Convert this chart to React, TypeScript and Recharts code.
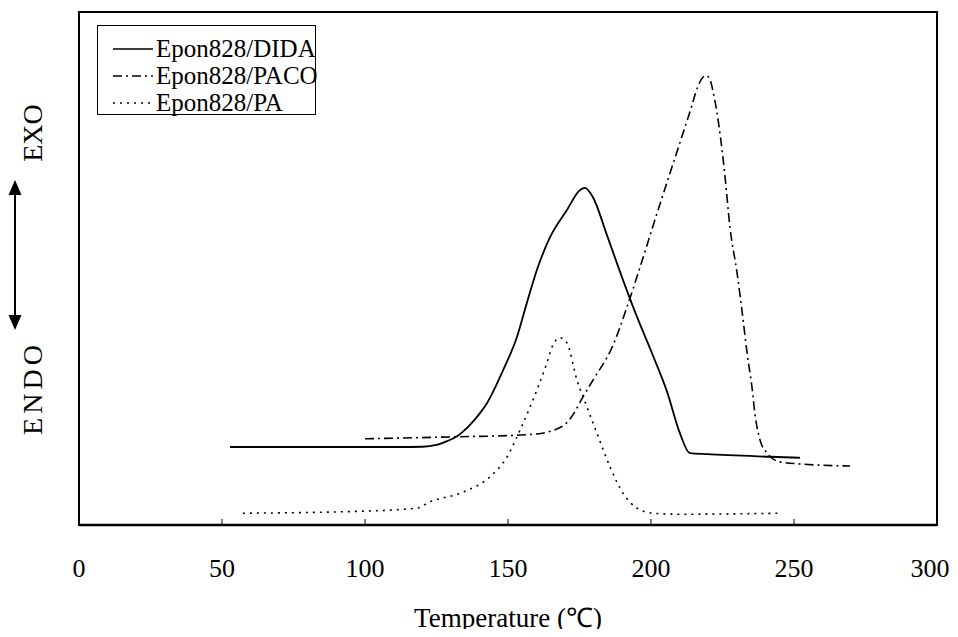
import React from 'react';
import { LineChart, Line, XAxis, YAxis, Legend, ReferenceArea } from 'recharts';

// Temperature (°C) and heat-flow (arbitrary units, EXO up)
const xTicks = [0, 50, 100, 150, 200, 250, 300];

const didaT = [52.8, 77.3, 112.2, 120.0, 125.0, 128.5, 132.2, 136.7, 140.2, 142.7, 148.3, 153.1, 156.6, 160.1, 164.7, 170.6, 175.2, 176.9, 179.7, 184.6, 189.2, 194.8, 200.7, 205.6, 210.1, 213.6, 219.6, 241.6, 252.1];
const didaV = [15.2, 15.2, 15.2, 15.25, 15.6, 16.3, 17.3, 19.5, 21.8, 23.8, 30.2, 36.6, 43.3, 49.7, 56.1, 61.4, 65.3, 65.7, 63.9, 56.5, 49.3, 41.0, 33.0, 26.0, 17.9, 14.0, 13.8, 13.3, 13.1];

const pacoT = [100, 132.2, 153.1, 162.0, 165.0, 168.2, 171.0, 173.5, 176.0, 180.0, 186.7, 191.6, 196.2, 200.7, 205.6, 210.1, 213.6, 216.4, 218.0, 219.2, 220.5, 221.7, 224.1, 225.9, 227.6, 230.1, 232.2, 233.6, 235.3, 236.4, 238.1, 240.6, 245.1, 252.1, 269.6];
const pacoV = [16.8, 17.2, 17.5, 17.9, 18.3, 19.0, 20.2, 22.2, 24.8, 28.5, 35.0, 42.5, 50.3, 58.3, 66.8, 74.5, 80.5, 85.5, 87.2, 87.6, 87.0, 84.5, 76.4, 67.8, 58.1, 49.1, 40.0, 33.5, 26.9, 21.4, 16.6, 14.0, 12.3, 11.9, 11.5];

const paT = [57.3, 99.3, 118.2, 122.7, 134.3, 143.7, 149.7, 154.2, 157.7, 163.6, 165.7, 168.2, 170.6, 174.1, 177.6, 181.1, 185.7, 190.2, 195.1, 200.7, 210.1, 245.1];
const paV = [2.3, 2.7, 3.3, 4.5, 6.4, 9.4, 13.3, 18.5, 23.0, 31.6, 35.1, 36.5, 35.5, 28.3, 23.0, 17.9, 11.3, 6.2, 3.3, 2.3, 2.1, 2.3];

const seriesNames = ['Epon828/DIDA', 'Epon828/PACO', 'Epon828/PA'];
const seriesDash = ['', '9 4 2 4', '2 5'];

const toPoints = (t: number[], v: number[]) => t.map((x, i) => ({ t: x, v: v[i] }));
const seriesData = [toPoints(didaT, didaV), toPoints(pacoT, pacoV), toPoints(paT, paV)];

const FONT = '"Liberation Serif", "Times New Roman", serif';
const W = 942;
const H = 629;

const renderLegend = () => (
  <div
    style={{
      width: 219,
      height: 90,
      boxSizing: 'border-box',
      border: '1.5px solid #000',
      background: '#fff',
      paddingTop: 9,
      paddingLeft: 15,
      fontFamily: FONT,
      fontSize: 25,
      color: '#000',
    }}
  >
    {seriesNames.map((name, i) => (
      <div key={name} style={{ display: 'flex', alignItems: 'center', height: 27, whiteSpace: 'nowrap' }}>
        <svg width={43} height={10} style={{ flex: 'none' }}>
          <line x1={0} y1={5} x2={40} y2={5} stroke="#000" strokeWidth={1.5} strokeDasharray={seriesDash[i] || undefined} />
        </svg>
        <span style={{ lineHeight: '27px' }}>{name}</span>
      </div>
    ))}
  </div>
);

const TICK_MARGIN = 34;
const renderTick = (props: any) => {
  const { x, y, payload } = props;
  const axisY = y - TICK_MARGIN;
  // keep the last label inside the drawing surface
  const tx = Math.min(x, W - 20);
  return (
    <g>
      <line x1={x} x2={x} y1={axisY} y2={axisY - 6} stroke="#000" strokeWidth={1} />
      <text x={tx} y={y} dy="0.71em" textAnchor="middle" fontFamily={FONT} fontSize={26} fill="#000">
        {payload.value}
      </text>
    </g>
  );
};

export default function App() {
  return (
    <div style={{ position: 'relative', width: W, height: H, marginBottom: -8 }}>
      <LineChart width={W} height={H} margin={{ top: 4, right: 13, bottom: 8, left: 71 }}>
        <XAxis
          type="number"
          dataKey="t"
          domain={[0, 300]}
          ticks={xTicks}
          allowDataOverflow
          height={104}
          tickSize={0}
          tickMargin={TICK_MARGIN}
          axisLine={{ stroke: '#000', strokeWidth: 2.5 }}
          tickLine={false}
          tick={renderTick}
          label={{ value: 'Temperature (℃)', position: 'insideBottom', offset: 2, fill: '#000', fontSize: 27, fontFamily: FONT }}
        />
        <YAxis type="number" dataKey="v" domain={[0, 100]} hide />
        <ReferenceArea x1={0} x2={300} y1={0} y2={100} fill="none" fillOpacity={0} stroke="#000" strokeWidth={2} />
        <Legend verticalAlign="middle" layout="horizontal" wrapperStyle={{ position: 'absolute', left: 89, top: 17, width: 219 }} content={renderLegend} />
        {seriesData.map((d, i) => (
          <Line
            key={seriesNames[i]}
            data={d}
            dataKey="v"
            name={seriesNames[i]}
            type="monotone"
            stroke="#000"
            strokeWidth={i === 0 ? 1.8 : 1.6}
            strokeDasharray={seriesDash[i] || undefined}
            dot={false}
            activeDot={false}
            isAnimationActive={false}
          />
        ))}
      </LineChart>
      <svg width={60} height={H} style={{ position: 'absolute', left: 0, top: 0, pointerEvents: 'none' }}>
        <text x={34} y={125} transform="rotate(-90 34 125)" textAnchor="middle" fontFamily={FONT} fontSize={28} fill="#000">EXO</text>
        <text x={34} y={380} transform="rotate(-90 34 380)" textAnchor="middle" fontFamily={FONT} fontSize={28} letterSpacing={4} fill="#000">ENDO</text>
        <line x1={7} y1={184} x2={7} y2={318} stroke="#000" strokeWidth={2} />
        <polygon points="7,172 0.5,187 13.5,187" fill="#000" />
        <polygon points="7,322 0.5,307 13.5,307" fill="#000" />
      </svg>
    </div>
  );
}
